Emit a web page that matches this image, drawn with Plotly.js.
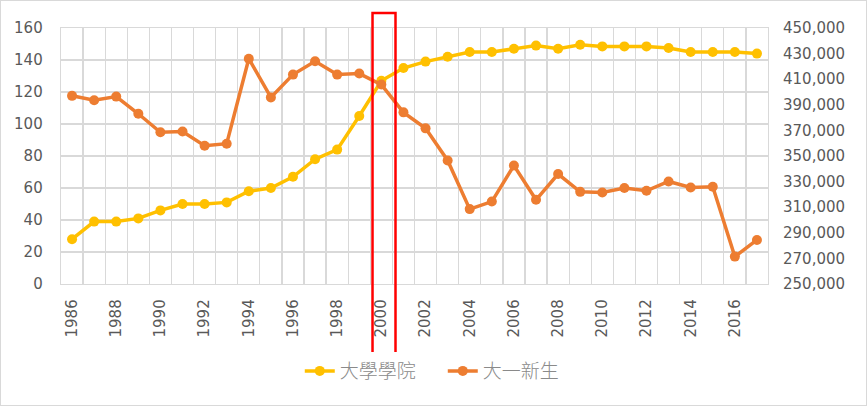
<!DOCTYPE html>
<html>
<head>
<meta charset="utf-8">
<script src="https://cdn.plot.ly/plotly-3.0.1.min.js"></script>
<style>
  html, body { margin: 0; padding: 0; background: #fff; }
  #wrap { position: relative; width: 867px; height: 406px; }
  #chart { width: 867px; height: 406px; }
  #frame { position: absolute; left: 0; top: 0; width: 865px; height: 404px; border: 1px solid #d9d9d9; pointer-events: none; }
</style>
</head>
<body>
<div id="wrap"><div id="chart"></div><div id="frame"></div></div>
<script>
const years = [1986,1987,1988,1989,1990,1991,1992,1993,1994,1995,1996,1997,1998,1999,2000,2001,2002,2003,2004,2005,2006,2007,2008,2009,2010,2011,2012,2013,2014,2015,2016,2017];
const colleges = [28,39,39,41,46,50,50,51,58,60,67,78,84,105,127,135,139,142,145,145,147,149,147,149.5,148.5,148.5,148.5,147.5,145,145,145,144];
const freshmen = [397000,393500,396400,383000,368500,369200,358000,359600,426000,395800,413600,424000,413600,414400,405800,384100,371600,346500,308500,314400,342600,315800,335900,322000,321500,325000,322800,330100,325400,326000,271400,284400];
const tickYears = [1986,1988,1990,1992,1994,1996,1998,2000,2002,2004,2006,2008,2010,2012,2014,2016];
const tickYearText = tickYears.map(String);
const leftTicks = [0,20,40,60,80,100,120,140,160];
const rightTicks = [250000,270000,290000,310000,330000,350000,370000,390000,410000,430000,450000];
const seriesNames = ['大學學院', '大一新生'];
const highlightYear = 2000;

const tickFont = {family: 'DejaVu Sans', size: 15, color: '#595959'};
const grid = '#d9d9d9';

const traces = [
  {x: years, y: colleges, name: seriesNames[0], type: 'scatter', mode: 'lines+markers',
   line: {color: '#FFC000', width: 3.5}, marker: {color: '#FFC000', size: 10}, yaxis: 'y'},
  {x: years, y: freshmen, name: seriesNames[1], type: 'scatter', mode: 'lines+markers',
   line: {color: '#ED7D31', width: 3.5}, marker: {color: '#ED7D31', size: 10}, yaxis: 'y2'}
];

const layout = {
  width: 867, height: 406,
  margin: {l: 61, r: 99, t: 28, b: 122},
  paper_bgcolor: '#fff', plot_bgcolor: '#fff',
  showlegend: true,
  legend: {orientation: 'h', x: 0.54, xanchor: 'center', y: -0.34, yanchor: 'middle',
           font: {family: 'Noto Sans CJK TC', size: 19, color: '#8a8a8a', weight: 300},
           entrywidth: 98, entrywidthmode: 'pixels'},
  xaxis: {range: [1985.5, 2017.5], tickvals: tickYears, ticktext: tickYearText, tickangle: -90,
          tickfont: tickFont, showgrid: false, zeroline: false,
          showline: true, mirror: true, linecolor: grid, linewidth: 1.3,
          ticklabelstandoff: 8,
          minor: {tick0: 1985.5, dtick: 1, showgrid: true, gridcolor: grid, gridwidth: 1.3}},
  yaxis: {range: [0, 160], tickvals: leftTicks, tickfont: tickFont, showgrid: true,
          gridcolor: grid, gridwidth: 1.3, zeroline: false, showline: true, mirror: true,
          linecolor: grid, linewidth: 1.3, ticklabelstandoff: 14},
  yaxis2: {range: [250000, 450000], tickvals: rightTicks, tickformat: ',d', overlaying: 'y',
           side: 'right', tickfont: tickFont, showgrid: false, zeroline: false, showline: false,
           ticklabelstandoff: 14},
  shapes: [
    {type: 'rect', xref: 'x', yref: 'paper', x0: highlightYear - 0.4, x1: highlightYear + 0.64,
     y0: -0.295, y1: 1.059, line: {color: '#FF0000', width: 2.5}, fillcolor: 'rgba(0,0,0,0)', layer: 'above'}
  ]
};

Plotly.newPlot('chart', traces, layout, {staticPlot: true, displayModeBar: false});
</script>
</body>
</html>
